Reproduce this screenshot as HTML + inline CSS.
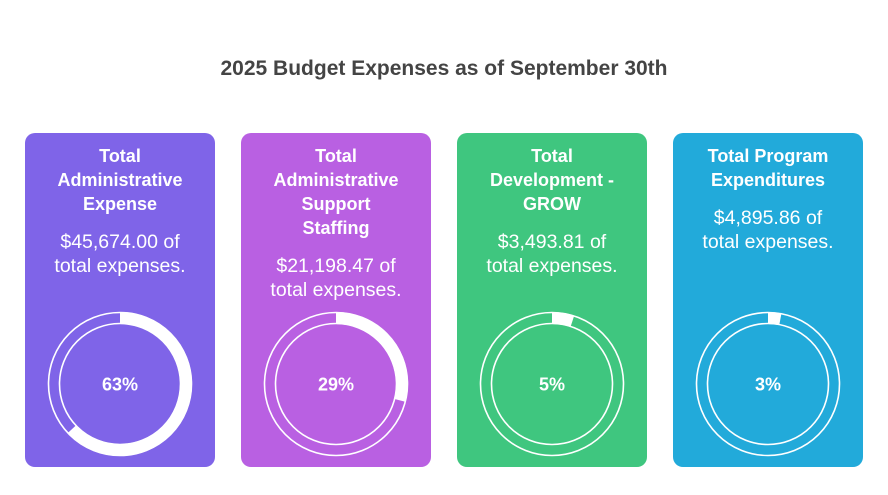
<!DOCTYPE html>
<html><head><meta charset="utf-8"><style>
body{margin:0;width:888px;height:490px;background:#fff;font-family:"Liberation Sans",sans-serif;overflow:hidden}
</style></head><body>
<svg width="888" height="490">
<text x="444" y="75" text-anchor="middle" font-size="21" font-weight="bold" fill="#444">2025 Budget Expenses as of September 30th</text>
<g id="cards"></g>
</svg>
<script>
const titles=[["Total","Administrative","Expense"],["Total","Administrative","Support","Staffing"],["Total","Development -","GROW"],["Total Program","Expenditures"]];
const amounts=["$45,674.00","$21,198.47","$3,493.81","$4,895.86"];
const percents=[63,29,5,3];
const colors=["#7F64E8","#B960E2","#3FC67F","#22AADA"];
const NS="http://www.w3.org/2000/svg";
const g=document.getElementById('cards');
function mk(t,a,p){const e=document.createElementNS(NS,t);for(const k in a)e.setAttribute(k,a[k]);p.appendChild(e);return e;}
percents.forEach((pc,i)=>{
  const x=25+i*216,cx=x+95,cy=384;
  const card=mk('g',{},g);
  
  
  mk('rect',{x:x,y:133,width:190,height:334,rx:10,fill:colors[i]},card);
  let y=162;
  titles[i].forEach(l=>{const t=mk('text',{x:cx,y:y,'text-anchor':'middle','font-size':18,'font-weight':'bold',fill:'#fff'},card);t.textContent=l;y+=24;});
  y+=14;
  const v1=mk('text',{x:cx,y:y,'text-anchor':'middle','font-size':19.5,fill:'#fff'},card);v1.textContent=amounts[i]+" of";
  const v2=mk('text',{x:cx,y:y+24,'text-anchor':'middle','font-size':19.5,fill:'#fff'},card);v2.textContent="total expenses.";
  mk('circle',{cx:cx,cy:cy,r:71.5,fill:'none',stroke:'#fff','stroke-width':1.6},card);
  mk('circle',{cx:cx,cy:cy,r:60.5,fill:'none',stroke:'#fff','stroke-width':1.6},card);
  const r=66,a=pc/100*2*Math.PI;
  const x2=cx+r*Math.sin(a),y2=cy-r*Math.cos(a);
  const arc=mk('path',{d:`M${cx} ${cy-r} A${r} ${r} 0 ${pc>50?1:0} 1 ${x2} ${y2}`,fill:'none',stroke:'#fff','stroke-width':12},card);
  
  
  const pt=mk('text',{x:cx,y:cy+6.5,'text-anchor':'middle','font-size':18,'font-weight':'bold',fill:'#fff'},card);
  pt.textContent=pc+"%";
  
  
});
</script>
</body></html>
